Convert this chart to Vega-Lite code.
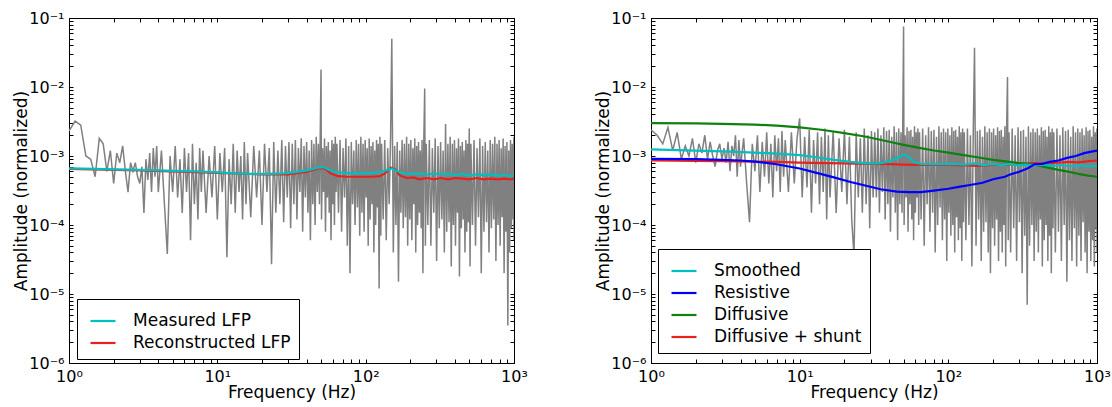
{
"$schema":"https://vega.github.io/schema/vega-lite/v6.json",
"padding":{"left":12,"top":9,"right":5,"bottom":5},
"background":"white",
"config":{
"view":{"stroke":"black","strokeWidth":1},
"font":"DejaVu Sans",
"axis":{"grid":false,"domainColor":"black","domainWidth":1,"tickColor":"black","tickSize":-4,"tickWidth":1,"labelFont":"DejaVu Sans","labelFontSize":16,"labelColor":"black","labelOverlap":false,"labelFlush":false,"labelBound":false,"titleFont":"DejaVu Sans","titleFontSize":17,"titleFontWeight":"normal","titleColor":"black"},
"legend":{"orient":"none","title":null,"symbolType":"stroke","symbolSize":625,"symbolStrokeWidth":2.2,"labelFont":"DejaVu Sans","labelFontSize":17,"labelColor":"black","labelLimit":400,"labelOffset":16,"symbolOffset":4,"padding":8,"rowPadding":0,"strokeColor":"black","strokeWidth":1,"fillColor":"white","cornerRadius":0}
},
"datasets":{
"gL":[{"f":1,"a":2.3e-3},{"f":1.1,"a":3.2e-3},{"f":1.2,"a":2.8e-3},{"f":1.3,"a":1.0e-3},{"f":1.4,"a":9e-4},{"f":1.5,"a":5e-4},{"f":1.6,"a":1.8e-3},{"f":1.7,"a":1.5e-3},{"f":1.8,"a":6e-4},{"f":1.9,"a":1.2e-3},{"f":2,"a":4e-4},{"f":2.1,"a":1.1e-3},{"f":2.2,"a":8e-4},{"f":2.3,"a":1.4e-3},{"f":2.4,"a":6e-4},{"f":2.5,"a":3e-4},{"f":2.6,"a":8e-4},{"f":2.7,"a":6e-4},{"f":2.8,"a":8e-4},{"f":2.9,"a":5e-4},{"f":3,"a":4e-4},{"f":3.1,"a":7e-4},{"f":3.2,"a":1.5e-4},{"f":3.3,"a":9e-4},{"f":3.4,"a":4.5e-4},{"f":3.5,"a":1.1e-3},{"f":3.6,"a":3e-4},{"f":3.7,"a":1.3e-3},{"f":3.8,"a":5e-4},{"f":3.9,"a":1.4e-3},{"f":4,"a":3e-4},
{"f":4.2,"a":1.2e-3},{"f":4.4,"a":2e-4},{"f":4.6,"a":3.8e-5},{"f":4.8,"a":1.0e-3},{"f":5,"a":3e-4},{"f":5.2,"a":1.4e-3},{"f":5.4,"a":2.5e-4},{"f":5.6,"a":9e-4},{"f":5.8,"a":1.5e-4},{"f":6,"a":1.3e-3},{"f":6.2,"a":3e-4},{"f":6.4,"a":1.1e-3},{"f":6.6,"a":6e-5},{"f":6.8,"a":1.5e-3},{"f":7,"a":2e-4},{"f":7.2,"a":8e-4},{"f":7.4,"a":1.2e-4},{"f":7.6,"a":1.3e-3},{"f":7.8,"a":3e-4},
{"f":8,"a":1.2e-3},{"f":8.4,"a":1.5e-4},{"f":8.8,"a":1.0e-3},{"f":9.2,"a":2.5e-4},{"f":9.6,"a":1.4e-3},{"f":10,"a":1.2e-4},{"f":10.4,"a":1.1e-3},{"f":10.8,"a":3e-4},{"f":11.2,"a":1.3e-3},{"f":11.6,"a":3.4e-5},{"f":12,"a":9e-4},{"f":12.4,"a":2e-4},{"f":12.8,"a":1.5e-3},{"f":13.2,"a":1.5e-4},{"f":13.6,"a":1.2e-3},{"f":14,"a":3e-4},{"f":14.4,"a":1.0e-3},{"f":14.8,"a":1.2e-4},{"f":15.2,"a":1.6e-3},{"f":15.6,"a":2e-4},
{"f":16,"a":1.1e-3},{"f":16.8,"a":1.3e-4},{"f":17.6,"a":1.4e-3},{"f":18.4,"a":2.5e-4},{"f":19.2,"a":1.2e-3},{"f":20,"a":1.0e-4},{"f":20.8,"a":1.5e-3},{"f":21.6,"a":3e-4},{"f":22.4,"a":1.3e-3},{"f":23.2,"a":2.7e-5},{"f":24,"a":1.6e-3},{"f":24.8,"a":1.5e-4},{"f":25.6,"a":1.2e-3},{"f":26.4,"a":2e-4},{"f":27.2,"a":1.7e-3},{"f":28,"a":1.1e-4},{"f":28.8,"a":1.4e-3},{"f":29.6,"a":2.5e-4},{"f":30.4,"a":1.6e-3},{"f":31.2,"a":9e-5},
{"f":32,"a":1.5e-3},{"f":32.8,"a":2e-4},{"f":33.6,"a":1.7e-3},{"f":34.4,"a":1.2e-4},{"f":35.2,"a":1.3e-3},{"f":36,"a":3e-4},{"f":36.8,"a":1.8e-3},{"f":37.6,"a":8e-5},{"f":38.4,"a":1.4e-3},{"f":39.2,"a":2.5e-4},{"f":40,"a":1.6e-3},{"f":40.8,"a":1.5e-4},{"f":41.6,"a":1.2e-3},{"f":42.4,"a":6e-5},{"f":43.2,"a":1.7e-3},{"f":44,"a":2e-4},{"f":44.8,"a":1.5e-3},{"f":45.6,"a":1e-4},{"f":46.4,"a":1.9e-3},{"f":47.2,"a":3e-4},{"f":48,"a":1.5e-3},{"f":48.8,"a":2e-4},{"f":50,"a":1.8e-2},{"f":50.4,"a":1.2e-4},{"f":51.2,"a":1.3e-3},{"f":52,"a":3e-4},{"f":52.8,"a":1.8e-3},{"f":53.6,"a":8e-5},{"f":54.4,"a":1.4e-3},{"f":55.2,"a":2.5e-4},{"f":56,"a":1.6e-3},{"f":56.8,"a":1.5e-4},{"f":57.6,"a":1.2e-3},{"f":58.4,"a":6e-5},{"f":59.2,"a":1.7e-3},{"f":60,"a":2e-4},{"f":60.8,"a":1.5e-3},{"f":61.6,"a":1e-4},{"f":62.4,"a":1.9e-3},{"f":63.2,"a":3e-4},
{"f":64,"a":1.5e-3},{"f":65.6,"a":1.5e-4},{"f":67.2,"a":1.7e-3},{"f":68.8,"a":8e-5},{"f":70.4,"a":1.3e-3},{"f":72,"a":2.5e-4},{"f":73.6,"a":1.8e-3},{"f":75.2,"a":5e-5},{"f":76.8,"a":1.4e-3},{"f":78.4,"a":2e-5},{"f":80,"a":1.6e-3},{"f":81.6,"a":2e-4},{"f":83.2,"a":1.2e-3},{"f":84.8,"a":1e-4},{"f":86.4,"a":1.7e-3},{"f":88,"a":1.8e-4},{"f":89.6,"a":1.5e-3},{"f":91.2,"a":7e-5},{"f":92.8,"a":1.9e-3},{"f":94.4,"a":1.5e-4},{"f":96,"a":1.5e-3},{"f":97.6,"a":8e-5},{"f":99.2,"a":1.7e-3},{"f":100.8,"a":2.5e-4},{"f":102.4,"a":1.3e-3},{"f":104,"a":5e-5},{"f":105.6,"a":1.8e-3},{"f":107.2,"a":1.2e-4},{"f":108.8,"a":1.4e-3},{"f":110.4,"a":2e-4},{"f":112,"a":1.6e-3},{"f":113.6,"a":4e-5},{"f":115.2,"a":1.2e-3},{"f":116.8,"a":1e-4},{"f":118.4,"a":1.7e-3},{"f":120,"a":1.8e-4},{"f":121.6,"a":1.5e-3},{"f":123.2,"a":1.2e-5},{"f":124.8,"a":1.9e-3},{"f":126.4,"a":7e-5},
{"f":128,"a":1.5e-3},{"f":131.2,"a":1.2e-4},{"f":134.4,"a":1.7e-3},{"f":137.6,"a":6e-5},{"f":140.8,"a":1.3e-3},{"f":144,"a":2e-4},{"f":147.2,"a":1.8e-3},{"f":150,"a":5e-2},{"f":153.6,"a":4e-5},{"f":156.8,"a":1.4e-3},{"f":160,"a":1e-4},{"f":163.2,"a":1.6e-3},{"f":166.4,"a":1.5e-5},{"f":169.6,"a":1.2e-3},{"f":172.8,"a":1.5e-4},{"f":176,"a":1.7e-3},{"f":179.2,"a":9e-5},{"f":182.4,"a":1.5e-3},{"f":185.6,"a":1.3e-4},{"f":188.8,"a":1.9e-3},{"f":192,"a":5e-5},{"f":195.2,"a":1.5e-3},{"f":198.4,"a":1.2e-4},{"f":201.6,"a":1.7e-3},{"f":204.8,"a":6e-5},{"f":208,"a":1.3e-3},{"f":211.2,"a":2e-4},{"f":214.4,"a":1.8e-3},{"f":217.6,"a":4e-5},{"f":220.8,"a":1.4e-3},{"f":224,"a":1e-4},{"f":227.2,"a":1.6e-3},{"f":230.4,"a":1.5e-4},{"f":233.6,"a":1.2e-3},{"f":236.8,"a":9e-5},{"f":240,"a":1.7e-3},{"f":243.2,"a":2e-5},{"f":246.4,"a":1.5e-3},{"f":250,"a":9.5e-3},{"f":252.8,"a":5e-5},
{"f":256,"a":1.5e-3},{"f":262.4,"a":1e-4},{"f":268.8,"a":1.7e-3},{"f":275.2,"a":5e-5},{"f":281.6,"a":1.3e-3},{"f":288,"a":1.5e-4},{"f":294.4,"a":1.8e-3},{"f":300.8,"a":3e-5},{"f":307.2,"a":1.4e-3},{"f":313.6,"a":9e-5},{"f":320,"a":1.6e-3},{"f":326.4,"a":1.2e-4},{"f":332.8,"a":1.2e-3},{"f":339.2,"a":4e-5},{"f":345.6,"a":2.9e-3},{"f":352,"a":8e-5},{"f":358.4,"a":1.5e-3},{"f":364.8,"a":1.1e-4},{"f":371.2,"a":1.9e-3},{"f":377.6,"a":2.5e-5},{"f":384,"a":1.5e-3},{"f":390.4,"a":1e-4},{"f":396.8,"a":1.7e-3},{"f":403.2,"a":5e-5},{"f":409.6,"a":1.3e-3},{"f":416,"a":1.5e-4},{"f":422.4,"a":1.8e-3},{"f":428.8,"a":1.8e-5},{"f":435.2,"a":1.4e-3},{"f":441.6,"a":9e-5},{"f":448,"a":1.6e-3},{"f":454.4,"a":1.2e-4},{"f":460.8,"a":1.2e-3},{"f":467.2,"a":4e-5},{"f":473.6,"a":1.7e-3},{"f":480,"a":8e-5},{"f":486.4,"a":1.5e-3},{"f":492.8,"a":1.1e-4},{"f":499.2,"a":2.5e-3},{"f":505.6,"a":2.5e-5},
{"f":512,"a":1.5e-3},{"f":524.8,"a":1e-4},{"f":537.6,"a":1.7e-3},{"f":550.4,"a":5e-5},{"f":563.2,"a":1.3e-3},{"f":576,"a":1.3e-4},{"f":588.8,"a":1.8e-3},{"f":601.6,"a":2e-5},{"f":614.4,"a":1.4e-3},{"f":627.2,"a":8e-5},{"f":640,"a":1.6e-3},{"f":652.8,"a":1.1e-4},{"f":665.6,"a":1.2e-3},{"f":678.4,"a":4e-5},{"f":691.2,"a":1.7e-3},{"f":704,"a":9e-5},{"f":716.8,"a":1.5e-3},{"f":729.6,"a":1.2e-4},{"f":742.4,"a":1.9e-3},{"f":755.2,"a":3e-5},{"f":768,"a":1.5e-3},{"f":780.8,"a":1e-4},{"f":793.6,"a":1.7e-3},{"f":806.4,"a":5e-5},{"f":819.2,"a":1.3e-3},{"f":832,"a":1.3e-4},{"f":844.8,"a":1.8e-3},{"f":857.6,"a":2e-5},{"f":870.4,"a":1.4e-3},{"f":883.2,"a":8e-5},{"f":896,"a":1.6e-3},{"f":908.8,"a":3.5e-6},{"f":921.6,"a":1.2e-3},{"f":934.4,"a":4e-5},{"f":947.2,"a":1.7e-3},{"f":960,"a":9e-5},{"f":972.8,"a":1.5e-3},{"f":985.6,"a":1.2e-4},{"f":998.4,"a":1.9e-3},{"f":1000,"a":6e-5}],
"gR":[{"f":1,"a":2.4e-3},{"f":1.1,"a":2.0e-3},{"f":1.2,"a":1.5e-3},{"f":1.3,"a":2.6e-3},{"f":1.4,"a":1.2e-3},{"f":1.5,"a":2.2e-3},{"f":1.6,"a":9e-4},{"f":1.7,"a":1.4e-3},{"f":1.8,"a":1.0e-3},{"f":1.9,"a":1.8e-3},{"f":2,"a":8e-4},{"f":2.1,"a":1.5e-3},{"f":2.2,"a":1.1e-3},{"f":2.3,"a":2.0e-3},{"f":2.4,"a":9e-4},{"f":2.5,"a":1.6e-3},{"f":2.6,"a":1.0e-3},{"f":2.7,"a":7e-4},{"f":2.8,"a":1.2e-3},{"f":2.9,"a":1.5e-3},{"f":3,"a":9e-4},{"f":3.1,"a":1.3e-3},{"f":3.2,"a":8e-4},{"f":3.3,"a":1.6e-3},{"f":3.4,"a":6e-4},{"f":3.5,"a":1.4e-3},{"f":3.6,"a":1.0e-3},{"f":3.7,"a":2.0e-3},{"f":3.8,"a":5e-4},{"f":3.9,"a":1.7e-3},{"f":4,"a":7e-4},
{"f":4.2,"a":1.8e-3},{"f":4.4,"a":4e-4},{"f":4.6,"a":1.1e-4},{"f":4.8,"a":1.5e-3},{"f":5,"a":6e-4},{"f":5.2,"a":2.0e-3},{"f":5.4,"a":3e-4},{"f":5.6,"a":1.6e-3},{"f":5.8,"a":5e-4},{"f":6,"a":2.2e-3},{"f":6.2,"a":4e-4},{"f":6.4,"a":1.5e-3},{"f":6.6,"a":2.5e-4},{"f":6.8,"a":2.0e-3},{"f":7,"a":6e-4},{"f":7.2,"a":1.8e-3},{"f":7.4,"a":3e-4},{"f":7.6,"a":2.3e-3},{"f":7.8,"a":5e-4},
{"f":8,"a":1.7e-3},{"f":8.4,"a":3e-4},{"f":8.8,"a":2.2e-3},{"f":9.2,"a":4e-4},{"f":9.6,"a":1.8e-3},{"f":10,"a":3.5e-3},{"f":10.4,"a":2.5e-4},{"f":10.8,"a":1.9e-3},{"f":11.2,"a":3.5e-4},{"f":11.6,"a":2.4e-3},{"f":12,"a":1.5e-4},{"f":12.4,"a":1.7e-3},{"f":12.8,"a":4e-4},{"f":13.2,"a":2.2e-3},{"f":13.6,"a":2e-4},{"f":14,"a":1.9e-3},{"f":14.4,"a":3e-4},{"f":14.8,"a":2.5e-3},{"f":15.2,"a":1.2e-4},{"f":15.6,"a":2.0e-3},
{"f":16,"a":2.5e-4},{"f":16.8,"a":2.3e-3},{"f":17.6,"a":1.5e-4},{"f":18.4,"a":1.8e-3},{"f":19.2,"a":3e-4},{"f":20,"a":2.4e-3},{"f":20.8,"a":2e-4},{"f":21.6,"a":1.9e-3},{"f":22.4,"a":1.2e-4},{"f":23.2,"a":3.5e-5},{"f":24,"a":2.2e-3},{"f":24.8,"a":2.5e-4},{"f":25.6,"a":1.8e-3},{"f":26.4,"a":1.5e-4},{"f":27.2,"a":2.5e-3},{"f":28,"a":2e-4},{"f":28.8,"a":2.0e-3},{"f":29.6,"a":9e-5},{"f":30.4,"a":2.3e-3},{"f":31.2,"a":2.5e-4},
{"f":32,"a":2.2e-3},{"f":32.8,"a":2.5e-4},{"f":33.6,"a":2.5e-3},{"f":34.4,"a":1.5e-4},{"f":35.2,"a":2.0e-3},{"f":36,"a":3e-4},{"f":36.8,"a":2.6e-3},{"f":37.6,"a":1.2e-4},{"f":38.4,"a":2.3e-3},{"f":39.2,"a":2e-4},{"f":40,"a":2.4e-3},{"f":40.8,"a":8e-5},{"f":41.6,"a":1.9e-3},{"f":42.4,"a":2.5e-4},{"f":43.2,"a":2.7e-3},{"f":44,"a":1.5e-4},{"f":44.8,"a":2.2e-3},{"f":45.6,"a":6e-5},{"f":46.4,"a":2.5e-3},{"f":47.2,"a":2e-4},{"f":48,"a":2.2e-3},{"f":48.8,"a":1.5e-4},{"f":50,"a":7.5e-2},{"f":50.4,"a":1e-4},{"f":51.2,"a":2.0e-3},{"f":52,"a":2.5e-4},{"f":52.8,"a":2.6e-3},{"f":53.6,"a":8e-5},{"f":54.4,"a":2.3e-3},{"f":55.2,"a":2e-4},{"f":56,"a":2.4e-3},{"f":56.8,"a":1.2e-4},{"f":57.6,"a":1.9e-3},{"f":58.4,"a":6e-5},{"f":59.2,"a":2.7e-3},{"f":60,"a":1.5e-4},{"f":60.8,"a":2.2e-3},{"f":61.6,"a":2.5e-4},{"f":62.4,"a":2.5e-3},{"f":63.2,"a":1e-4},
{"f":64,"a":2.2e-3},{"f":65.6,"a":1.2e-4},{"f":67.2,"a":2.5e-3},{"f":68.8,"a":5e-5},{"f":70.4,"a":2.0e-3},{"f":72,"a":2e-4},{"f":73.6,"a":2.6e-3},{"f":75.2,"a":8e-5},{"f":76.8,"a":2.3e-3},{"f":78.4,"a":1.5e-4},{"f":80,"a":2.4e-3},{"f":81.6,"a":4e-5},{"f":83.2,"a":1.9e-3},{"f":84.8,"a":1e-4},{"f":86.4,"a":2.7e-3},{"f":88,"a":1.8e-4},{"f":89.6,"a":2.2e-3},{"f":91.2,"a":6e-5},{"f":92.8,"a":2.5e-3},{"f":94.4,"a":1.2e-4},{"f":96,"a":2.2e-3},{"f":97.6,"a":3e-5},{"f":99.2,"a":2.5e-3},{"f":100.8,"a":1.5e-4},{"f":102.4,"a":2.0e-3},{"f":104,"a":7e-5},{"f":105.6,"a":2.6e-3},{"f":107.2,"a":1e-4},{"f":108.8,"a":2.3e-3},{"f":110.4,"a":4e-5},{"f":112,"a":2.4e-3},{"f":113.6,"a":1.3e-4},{"f":115.2,"a":1.9e-3},{"f":116.8,"a":6e-5},{"f":118.4,"a":2.7e-3},{"f":120,"a":9e-5},{"f":121.6,"a":2.2e-3},{"f":123.2,"a":3e-5},{"f":124.8,"a":2.5e-3},{"f":126.4,"a":1.1e-4},
{"f":128,"a":2.2e-3},{"f":131.2,"a":6e-5},{"f":134.4,"a":2.5e-3},{"f":137.6,"a":1e-4},{"f":140.8,"a":2.0e-3},{"f":144,"a":2.5e-5},{"f":147.2,"a":2.6e-3},{"f":150,"a":3.7e-2},{"f":153.6,"a":5e-5},{"f":156.8,"a":2.3e-3},{"f":160,"a":1.2e-4},{"f":163.2,"a":2.4e-3},{"f":166.4,"a":3e-5},{"f":169.6,"a":1.9e-3},{"f":172.8,"a":8e-5},{"f":176,"a":2.7e-3},{"f":179.2,"a":1.1e-4},{"f":182.4,"a":2.2e-3},{"f":185.6,"a":4e-5},{"f":188.8,"a":2.5e-3},{"f":192,"a":2e-5},{"f":195.2,"a":2.2e-3},{"f":198.4,"a":9e-5},{"f":201.6,"a":2.5e-3},{"f":204.8,"a":5e-5},{"f":208,"a":2.0e-3},{"f":211.2,"a":1.2e-4},{"f":214.4,"a":2.6e-3},{"f":217.6,"a":3e-5},{"f":220.8,"a":2.3e-3},{"f":224,"a":8e-5},{"f":227.2,"a":2.4e-3},{"f":230.4,"a":4e-5},{"f":233.6,"a":1.9e-3},{"f":236.8,"a":1e-4},{"f":240,"a":2.7e-3},{"f":243.2,"a":2.5e-5},{"f":246.4,"a":2.2e-3},{"f":250,"a":1.4e-2},{"f":252.8,"a":6e-5},
{"f":256,"a":2.2e-3},{"f":262.4,"a":4e-5},{"f":268.8,"a":2.5e-3},{"f":275.2,"a":9e-5},{"f":281.6,"a":2.0e-3},{"f":288,"a":3e-5},{"f":294.4,"a":2.6e-3},{"f":300.8,"a":1.1e-4},{"f":307.2,"a":2.3e-3},{"f":313.6,"a":2e-5},{"f":320,"a":2.4e-3},{"f":326.4,"a":7e-5},{"f":332.8,"a":1.9e-3},{"f":339.2,"a":7e-6},{"f":345.6,"a":2.7e-3},{"f":352,"a":5e-5},{"f":358.4,"a":2.2e-3},{"f":364.8,"a":1e-4},{"f":371.2,"a":2.5e-3},{"f":377.6,"a":3e-5},{"f":384,"a":2.2e-3},{"f":390.4,"a":8e-5},{"f":396.8,"a":2.5e-3},{"f":403.2,"a":4e-5},{"f":409.6,"a":2.0e-3},{"f":416,"a":1.2e-4},{"f":422.4,"a":2.6e-3},{"f":428.8,"a":2.5e-5},{"f":435.2,"a":2.3e-3},{"f":441.6,"a":6e-5},{"f":448,"a":2.4e-3},{"f":454.4,"a":1e-4},{"f":460.8,"a":1.9e-3},{"f":467.2,"a":3e-5},{"f":473.6,"a":2.7e-3},{"f":480,"a":7e-5},{"f":486.4,"a":2.2e-3},{"f":492.8,"a":2e-5},{"f":499.2,"a":2.5e-3},{"f":505.6,"a":9e-5},
{"f":512,"a":2.2e-3},{"f":524.8,"a":4e-5},{"f":537.6,"a":2.5e-3},{"f":550.4,"a":8e-5},{"f":563.2,"a":2.0e-3},{"f":576,"a":3e-5},{"f":588.8,"a":2.6e-3},{"f":601.6,"a":1e-4},{"f":614.4,"a":2.3e-3},{"f":627.2,"a":1.5e-5},{"f":640,"a":2.4e-3},{"f":652.8,"a":6e-5},{"f":665.6,"a":1.9e-3},{"f":678.4,"a":3e-5},{"f":691.2,"a":2.7e-3},{"f":704,"a":9e-5},{"f":716.8,"a":2.2e-3},{"f":729.6,"a":2.5e-5},{"f":742.4,"a":2.5e-3},{"f":755.2,"a":7e-5},{"f":768,"a":2.2e-3},{"f":780.8,"a":3e-5},{"f":793.6,"a":2.5e-3},{"f":806.4,"a":1.1e-4},{"f":819.2,"a":2.0e-3},{"f":832,"a":4e-5},{"f":844.8,"a":2.6e-3},{"f":857.6,"a":2e-5},{"f":870.4,"a":2.3e-3},{"f":883.2,"a":8e-5},{"f":896,"a":2.4e-3},{"f":908.8,"a":3e-5},{"f":921.6,"a":1.9e-3},{"f":934.4,"a":6e-5},{"f":947.2,"a":2.7e-3},{"f":960,"a":2.5e-5},{"f":972.8,"a":2.2e-3},{"f":985.6,"a":9e-5},{"f":998.4,"a":2.5e-3},{"f":1000,"a":4e-5}],
"sL":[{"s":"Reconstructed LFP","f":1,"a":6.5e-4},{"s":"Reconstructed LFP","f":3,"a":6.2e-4},{"s":"Reconstructed LFP","f":10,"a":5.7e-4},{"s":"Reconstructed LFP","f":20,"a":5.4e-4},{"s":"Reconstructed LFP","f":30,"a":5.4e-4},{"s":"Reconstructed LFP","f":40,"a":5.9e-4},{"s":"Reconstructed LFP","f":48,"a":6.6e-4},{"s":"Reconstructed LFP","f":53,"a":6.6e-4},{"s":"Reconstructed LFP","f":58,"a":5.6e-4},{"s":"Reconstructed LFP","f":65,"a":5.1e-4},{"s":"Reconstructed LFP","f":75,"a":5.0e-4},{"s":"Reconstructed LFP","f":90,"a":5.0e-4},{"s":"Reconstructed LFP","f":110,"a":5.0e-4},{"s":"Reconstructed LFP","f":125,"a":5.1e-4},{"s":"Reconstructed LFP","f":135,"a":5.6e-4},{"s":"Reconstructed LFP","f":148,"a":6.8e-4},{"s":"Reconstructed LFP","f":158,"a":6.4e-4},{"s":"Reconstructed LFP","f":170,"a":5.2e-4},{"s":"Reconstructed LFP","f":190,"a":4.8e-4},{"s":"Reconstructed LFP","f":210,"a":4.9e-4},{"s":"Reconstructed LFP","f":230,"a":4.6e-4},{"s":"Reconstructed LFP","f":260,"a":4.8e-4},{"s":"Reconstructed LFP","f":290,"a":4.6e-4},{"s":"Reconstructed LFP","f":320,"a":4.8e-4},{"s":"Reconstructed LFP","f":360,"a":4.6e-4},{"s":"Reconstructed LFP","f":400,"a":4.8e-4},{"s":"Reconstructed LFP","f":450,"a":4.7e-4},{"s":"Reconstructed LFP","f":500,"a":4.6e-4},{"s":"Reconstructed LFP","f":560,"a":4.8e-4},{"s":"Reconstructed LFP","f":620,"a":4.6e-4},{"s":"Reconstructed LFP","f":700,"a":4.7e-4},{"s":"Reconstructed LFP","f":780,"a":4.6e-4},{"s":"Reconstructed LFP","f":860,"a":4.7e-4},{"s":"Reconstructed LFP","f":940,"a":4.6e-4},{"s":"Reconstructed LFP","f":1000,"a":4.7e-4},
{"s":"Measured LFP","f":1,"a":6.6e-4},{"s":"Measured LFP","f":1.5,"a":6.5e-4},{"s":"Measured LFP","f":2,"a":6.4e-4},{"s":"Measured LFP","f":3,"a":6.3e-4},{"s":"Measured LFP","f":4,"a":6.2e-4},{"s":"Measured LFP","f":5,"a":6.1e-4},{"s":"Measured LFP","f":7,"a":6.0e-4},{"s":"Measured LFP","f":10,"a":5.8e-4},{"s":"Measured LFP","f":13,"a":5.6e-4},{"s":"Measured LFP","f":17,"a":5.5e-4},{"s":"Measured LFP","f":22,"a":5.5e-4},{"s":"Measured LFP","f":28,"a":5.6e-4},{"s":"Measured LFP","f":35,"a":5.9e-4},{"s":"Measured LFP","f":42,"a":6.3e-4},{"s":"Measured LFP","f":48,"a":6.8e-4},{"s":"Measured LFP","f":52,"a":6.9e-4},{"s":"Measured LFP","f":56,"a":6.4e-4},{"s":"Measured LFP","f":62,"a":5.9e-4},{"s":"Measured LFP","f":70,"a":5.7e-4},{"s":"Measured LFP","f":80,"a":5.6e-4},{"s":"Measured LFP","f":95,"a":5.6e-4},{"s":"Measured LFP","f":110,"a":5.7e-4},{"s":"Measured LFP","f":125,"a":5.8e-4},{"s":"Measured LFP","f":140,"a":6.3e-4},{"s":"Measured LFP","f":150,"a":6.6e-4},{"s":"Measured LFP","f":160,"a":6.1e-4},{"s":"Measured LFP","f":175,"a":5.7e-4},{"s":"Measured LFP","f":200,"a":5.5e-4},{"s":"Measured LFP","f":230,"a":5.6e-4},{"s":"Measured LFP","f":260,"a":5.4e-4},{"s":"Measured LFP","f":290,"a":5.6e-4},{"s":"Measured LFP","f":320,"a":5.4e-4},{"s":"Measured LFP","f":360,"a":5.5e-4},{"s":"Measured LFP","f":400,"a":5.3e-4},{"s":"Measured LFP","f":450,"a":5.5e-4},{"s":"Measured LFP","f":500,"a":5.2e-4},{"s":"Measured LFP","f":560,"a":5.4e-4},{"s":"Measured LFP","f":620,"a":5.3e-4},{"s":"Measured LFP","f":700,"a":5.4e-4},{"s":"Measured LFP","f":780,"a":5.2e-4},{"s":"Measured LFP","f":860,"a":5.3e-4},{"s":"Measured LFP","f":940,"a":5.1e-4},{"s":"Measured LFP","f":1000,"a":5.2e-4}],
"sR":[{"s":"Diffusive + shunt","f":1,"a":8.6e-4},{"s":"Diffusive + shunt","f":2,"a":8.5e-4},{"s":"Diffusive + shunt","f":3,"a":8.4e-4},{"s":"Diffusive + shunt","f":5,"a":8.3e-4},{"s":"Diffusive + shunt","f":7,"a":8.2e-4},{"s":"Diffusive + shunt","f":10,"a":8.0e-4},{"s":"Diffusive + shunt","f":15,"a":7.9e-4},{"s":"Diffusive + shunt","f":20,"a":7.8e-4},{"s":"Diffusive + shunt","f":30,"a":7.7e-4},{"s":"Diffusive + shunt","f":40,"a":7.6e-4},{"s":"Diffusive + shunt","f":50,"a":7.5e-4},{"s":"Diffusive + shunt","f":70,"a":7.4e-4},{"s":"Diffusive + shunt","f":100,"a":7.4e-4},{"s":"Diffusive + shunt","f":130,"a":7.3e-4},{"s":"Diffusive + shunt","f":160,"a":7.2e-4},{"s":"Diffusive + shunt","f":200,"a":7.4e-4},{"s":"Diffusive + shunt","f":250,"a":7.5e-4},{"s":"Diffusive + shunt","f":300,"a":7.7e-4},{"s":"Diffusive + shunt","f":380,"a":7.9e-4},{"s":"Diffusive + shunt","f":450,"a":7.8e-4},{"s":"Diffusive + shunt","f":550,"a":8.0e-4},{"s":"Diffusive + shunt","f":650,"a":8.2e-4},{"s":"Diffusive + shunt","f":750,"a":8.1e-4},{"s":"Diffusive + shunt","f":870,"a":8.4e-4},{"s":"Diffusive + shunt","f":1000,"a":8.6e-4},
{"s":"Diffusive","f":1,"a":3.0e-3},{"s":"Diffusive","f":2,"a":2.97e-3},{"s":"Diffusive","f":3,"a":2.93e-3},{"s":"Diffusive","f":5,"a":2.85e-3},{"s":"Diffusive","f":7,"a":2.75e-3},{"s":"Diffusive","f":10,"a":2.6e-3},{"s":"Diffusive","f":14,"a":2.4e-3},{"s":"Diffusive","f":20,"a":2.15e-3},{"s":"Diffusive","f":28,"a":1.9e-3},{"s":"Diffusive","f":38,"a":1.65e-3},{"s":"Diffusive","f":50,"a":1.45e-3},{"s":"Diffusive","f":65,"a":1.3e-3},{"s":"Diffusive","f":80,"a":1.2e-3},{"s":"Diffusive","f":100,"a":1.12e-3},{"s":"Diffusive","f":130,"a":1.02e-3},{"s":"Diffusive","f":160,"a":9.5e-4},{"s":"Diffusive","f":200,"a":8.8e-4},{"s":"Diffusive","f":250,"a":8.3e-4},{"s":"Diffusive","f":300,"a":7.9e-4},{"s":"Diffusive","f":380,"a":7.5e-4},{"s":"Diffusive","f":450,"a":6.9e-4},{"s":"Diffusive","f":550,"a":6.3e-4},{"s":"Diffusive","f":650,"a":5.9e-4},{"s":"Diffusive","f":750,"a":5.5e-4},{"s":"Diffusive","f":870,"a":5.2e-4},{"s":"Diffusive","f":1000,"a":5.0e-4},
{"s":"Smoothed","f":1,"a":1.25e-3},{"s":"Smoothed","f":1.5,"a":1.22e-3},{"s":"Smoothed","f":2,"a":1.2e-3},{"s":"Smoothed","f":3,"a":1.17e-3},{"s":"Smoothed","f":5,"a":1.12e-3},{"s":"Smoothed","f":7,"a":1.08e-3},{"s":"Smoothed","f":10,"a":1.03e-3},{"s":"Smoothed","f":13,"a":9.6e-4},{"s":"Smoothed","f":17,"a":8.8e-4},{"s":"Smoothed","f":22,"a":8.2e-4},{"s":"Smoothed","f":28,"a":7.8e-4},{"s":"Smoothed","f":34,"a":7.8e-4},{"s":"Smoothed","f":40,"a":8.3e-4},{"s":"Smoothed","f":45,"a":9.3e-4},{"s":"Smoothed","f":50,"a":1.05e-3},{"s":"Smoothed","f":54,"a":9.8e-4},{"s":"Smoothed","f":58,"a":8.3e-4},{"s":"Smoothed","f":65,"a":7.7e-4},{"s":"Smoothed","f":75,"a":7.6e-4},{"s":"Smoothed","f":90,"a":7.6e-4},{"s":"Smoothed","f":110,"a":7.7e-4},{"s":"Smoothed","f":130,"a":7.5e-4},{"s":"Smoothed","f":150,"a":7.8e-4},{"s":"Smoothed","f":170,"a":7.4e-4},{"s":"Smoothed","f":200,"a":7.6e-4},{"s":"Smoothed","f":230,"a":7.4e-4},{"s":"Smoothed","f":260,"a":7.7e-4},{"s":"Smoothed","f":290,"a":7.3e-4},{"s":"Smoothed","f":330,"a":7.5e-4},{"s":"Smoothed","f":380,"a":7.3e-4},{"s":"Smoothed","f":430,"a":7.5e-4},{"s":"Smoothed","f":500,"a":7.2e-4},{"s":"Smoothed","f":580,"a":7.4e-4},{"s":"Smoothed","f":660,"a":7.1e-4},{"s":"Smoothed","f":760,"a":7.3e-4},{"s":"Smoothed","f":870,"a":7.1e-4},{"s":"Smoothed","f":1000,"a":7.2e-4},
{"s":"Resistive","f":1,"a":9.1e-4},{"s":"Resistive","f":2,"a":9.0e-4},{"s":"Resistive","f":3,"a":8.8e-4},{"s":"Resistive","f":4,"a":8.6e-4},{"s":"Resistive","f":5,"a":8.3e-4},{"s":"Resistive","f":7,"a":7.6e-4},{"s":"Resistive","f":10,"a":6.6e-4},{"s":"Resistive","f":13,"a":5.7e-4},{"s":"Resistive","f":17,"a":4.9e-4},{"s":"Resistive","f":22,"a":4.2e-4},{"s":"Resistive","f":28,"a":3.7e-4},{"s":"Resistive","f":35,"a":3.3e-4},{"s":"Resistive","f":45,"a":3.05e-4},{"s":"Resistive","f":55,"a":3.0e-4},{"s":"Resistive","f":65,"a":3.0e-4},{"s":"Resistive","f":80,"a":3.15e-4},{"s":"Resistive","f":100,"a":3.35e-4},{"s":"Resistive","f":120,"a":3.6e-4},{"s":"Resistive","f":140,"a":3.8e-4},{"s":"Resistive","f":170,"a":4.1e-4},{"s":"Resistive","f":200,"a":4.6e-4},{"s":"Resistive","f":240,"a":5.0e-4},{"s":"Resistive","f":260,"a":5.4e-4},{"s":"Resistive","f":300,"a":5.9e-4},{"s":"Resistive","f":340,"a":6.6e-4},{"s":"Resistive","f":380,"a":7.6e-4},{"s":"Resistive","f":430,"a":7.7e-4},{"s":"Resistive","f":480,"a":8.2e-4},{"s":"Resistive","f":550,"a":8.6e-4},{"s":"Resistive","f":630,"a":9.4e-4},{"s":"Resistive","f":720,"a":1.0e-3},{"s":"Resistive","f":820,"a":1.1e-3},{"s":"Resistive","f":900,"a":1.15e-3},{"s":"Resistive","f":1000,"a":1.2e-3}]
},
"bounds":"flush",
"spacing":137,
"resolve":{"scale":{"color":"independent"}},
"hconcat":[
{"width":445,"height":345,
"layer":[
{"data":{"name":"gL"},"mark":{"type":"line","color":"#808080","strokeWidth":1.5,"clip":true},
"encoding":{
"x":{"field":"f","type":"quantitative","scale":{"type":"log","domain":[1,1000],"nice":false},"axis":{"orient":"bottom","values":[1,2,3,4,5,6,7,8,9,10,20,30,40,50,60,70,80,90,100,200,300,400,500,600,700,800,900,1000],"labelExpr":"abs(log(datum.value)/LN10-round(log(datum.value)/LN10))<1e-6?'10'+['⁻⁶','⁻⁵','⁻⁴','⁻³','⁻²','⁻¹','⁰','¹','²','³'][round(log(datum.value)/LN10)+6]:''","labelPadding":9,"title":"Frequency (Hz)","titlePadding":0}},
"y":{"field":"a","type":"quantitative","scale":{"type":"log","domain":[1e-6,0.1],"nice":false},"axis":{"orient":"left","values":[1e-6,2e-6,3e-6,4e-6,5e-6,6e-6,7e-6,8e-6,9e-6,1e-5,2e-5,3e-5,4e-5,5e-5,6e-5,7e-5,8e-5,9e-5,1e-4,2e-4,3e-4,4e-4,5e-4,6e-4,7e-4,8e-4,9e-4,1e-3,2e-3,3e-3,4e-3,5e-3,6e-3,7e-3,8e-3,9e-3,0.01,0.02,0.03,0.04,0.05,0.06,0.07,0.08,0.09,0.1],"labelExpr":"abs(log(datum.value)/LN10-round(log(datum.value)/LN10))<1e-6?'10'+['⁻⁶','⁻⁵','⁻⁴','⁻³','⁻²','⁻¹','⁰','¹','²','³'][round(log(datum.value)/LN10)+6]:''","labelPadding":9,"title":"Amplitude (normalized)","titlePadding":-2}}}},
{"data":{"name":"sL"},"mark":{"type":"line","strokeWidth":2.2,"clip":true},
"encoding":{
"x":{"field":"f","type":"quantitative","scale":{"type":"log","domain":[1,1000],"nice":false},"axis":{"orient":"top","values":[1,2,3,4,5,6,7,8,9,10,20,30,40,50,60,70,80,90,100,200,300,400,500,600,700,800,900,1000],"labels":false,"title":null}},
"y":{"field":"a","type":"quantitative","scale":{"type":"log","domain":[1e-6,0.1],"nice":false},"axis":{"orient":"right","values":[1e-6,2e-6,3e-6,4e-6,5e-6,6e-6,7e-6,8e-6,9e-6,1e-5,2e-5,3e-5,4e-5,5e-5,6e-5,7e-5,8e-5,9e-5,1e-4,2e-4,3e-4,4e-4,5e-4,6e-4,7e-4,8e-4,9e-4,1e-3,2e-3,3e-3,4e-3,5e-3,6e-3,7e-3,8e-3,9e-3,0.01,0.02,0.03,0.04,0.05,0.06,0.07,0.08,0.09,0.1],"labels":false,"title":null}},
"color":{"field":"s","type":"nominal","scale":{"domain":["Measured LFP","Reconstructed LFP"],"range":["#00bfbf","#e8201e"]},"legend":{"legendX":8,"legendY":281}}}}
],
"resolve":{"axis":{"x":"independent","y":"independent"}}},
{"width":446,"height":345,
"layer":[
{"data":{"name":"gR"},"mark":{"type":"line","color":"#808080","strokeWidth":1.5,"clip":true},
"encoding":{
"x":{"field":"f","type":"quantitative","scale":{"type":"log","domain":[1,1000],"nice":false},"axis":{"orient":"bottom","values":[1,2,3,4,5,6,7,8,9,10,20,30,40,50,60,70,80,90,100,200,300,400,500,600,700,800,900,1000],"labelExpr":"abs(log(datum.value)/LN10-round(log(datum.value)/LN10))<1e-6?'10'+['⁻⁶','⁻⁵','⁻⁴','⁻³','⁻²','⁻¹','⁰','¹','²','³'][round(log(datum.value)/LN10)+6]:''","labelPadding":9,"title":"Frequency (Hz)","titlePadding":0}},
"y":{"field":"a","type":"quantitative","scale":{"type":"log","domain":[1e-6,0.1],"nice":false},"axis":{"orient":"left","values":[1e-6,2e-6,3e-6,4e-6,5e-6,6e-6,7e-6,8e-6,9e-6,1e-5,2e-5,3e-5,4e-5,5e-5,6e-5,7e-5,8e-5,9e-5,1e-4,2e-4,3e-4,4e-4,5e-4,6e-4,7e-4,8e-4,9e-4,1e-3,2e-3,3e-3,4e-3,5e-3,6e-3,7e-3,8e-3,9e-3,0.01,0.02,0.03,0.04,0.05,0.06,0.07,0.08,0.09,0.1],"labelExpr":"abs(log(datum.value)/LN10-round(log(datum.value)/LN10))<1e-6?'10'+['⁻⁶','⁻⁵','⁻⁴','⁻³','⁻²','⁻¹','⁰','¹','²','³'][round(log(datum.value)/LN10)+6]:''","labelPadding":9,"title":"Amplitude (normalized)","titlePadding":-2}}}},
{"data":{"name":"sR"},"mark":{"type":"line","strokeWidth":2.2,"clip":true},
"encoding":{
"x":{"field":"f","type":"quantitative","scale":{"type":"log","domain":[1,1000],"nice":false},"axis":{"orient":"top","values":[1,2,3,4,5,6,7,8,9,10,20,30,40,50,60,70,80,90,100,200,300,400,500,600,700,800,900,1000],"labels":false,"title":null}},
"y":{"field":"a","type":"quantitative","scale":{"type":"log","domain":[1e-6,0.1],"nice":false},"axis":{"orient":"right","values":[1e-6,2e-6,3e-6,4e-6,5e-6,6e-6,7e-6,8e-6,9e-6,1e-5,2e-5,3e-5,4e-5,5e-5,6e-5,7e-5,8e-5,9e-5,1e-4,2e-4,3e-4,4e-4,5e-4,6e-4,7e-4,8e-4,9e-4,1e-3,2e-3,3e-3,4e-3,5e-3,6e-3,7e-3,8e-3,9e-3,0.01,0.02,0.03,0.04,0.05,0.06,0.07,0.08,0.09,0.1],"labels":false,"title":null}},
"color":{"field":"s","type":"nominal","scale":{"domain":["Smoothed","Resistive","Diffusive","Diffusive + shunt"],"range":["#00bfbf","#0000ff","#108010","#e8201e"]},"legend":{"legendX":7,"legendY":231}}}}
],
"resolve":{"axis":{"x":"independent","y":"independent"}}}
]
}
